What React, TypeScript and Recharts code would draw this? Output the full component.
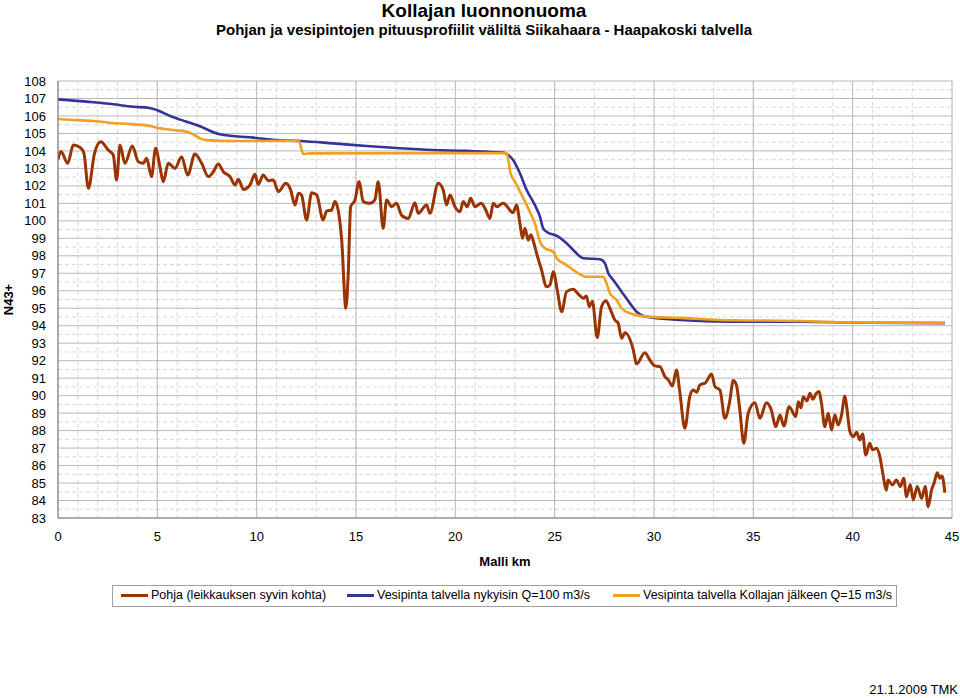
import { LineChart, Line, XAxis, YAxis, CartesianGrid } from "recharts";

const FONT = "'Liberation Sans', Arial, sans-serif";

// Pohja (leikkauksen syvin kohta)
const bedKm = [
  0, 0.15, 0.49, 0.77, 1.11, 1.3, 1.53, 1.83, 2.15, 2.53, 2.78, 2.95, 3.12, 3.37, 3.74, 4.04, 4.29, 4.46, 4.71, 4.91,
  5.13, 5.3, 5.55, 5.89, 6.22, 6.53, 6.89, 7.23, 7.57, 7.82, 8.07, 8.32, 8.66, 8.91, 9.08, 9.33, 9.66, 9.91, 10.08, 10.33,
  10.58, 10.84, 11.09, 11.47, 11.7, 11.93, 12.1, 12.26, 12.51, 12.77, 13.02, 13.35, 13.52, 13.77, 13.94, 14.1, 14.28, 14.49, 14.61, 14.73,
  14.95, 15.15, 15.37, 15.7, 15.95, 16.12, 16.37, 16.54, 16.79, 17.04, 17.29, 17.63, 17.97, 18.13, 18.55, 18.72, 19.14, 19.39, 19.56, 19.73,
  19.98, 20.23, 20.4, 20.6, 20.77, 20.99, 21.3, 21.5, 21.74, 21.91, 22.1, 22.24, 22.41, 22.91, 23.08, 23.25, 23.38, 23.5, 23.67, 23.8,
  23.92, 24.09, 24.34, 24.59, 24.76, 24.93, 25.13, 25.35, 25.6, 25.93, 26.2, 26.44, 26.6, 26.74, 26.9, 27.14, 27.36, 27.58, 27.78, 28.03,
  28.2, 28.37, 28.54, 28.96, 29.12, 29.54, 29.79, 30.05, 30.3, 30.55, 30.72, 30.93, 31.13, 31.3, 31.55, 31.8, 31.97, 32.15, 32.31, 32.6,
  32.9, 33.07, 33.32, 33.57, 33.8, 33.99, 34.15, 34.32, 34.52, 34.74, 35.08, 35.33, 35.66, 35.9, 36.13, 36.34, 36.54, 36.8, 37.14, 37.26,
  37.4, 37.51, 37.7, 37.85, 38.0, 38.15, 38.31, 38.43, 38.6, 38.77, 38.94, 39.1, 39.27, 39.44, 39.61, 39.72, 39.86, 40.03, 40.2, 40.36,
  40.5, 40.66, 40.86, 41.0, 41.2, 41.37, 41.53, 41.7, 41.78, 42.0, 42.2, 42.4, 42.57, 42.71, 42.9, 43.05, 43.25, 43.47, 43.65, 43.8,
  43.97, 44.1, 44.26, 44.39, 44.5, 44.64,
];
const bedLevel = [
  103.52, 103.96, 103.29, 104.34, 104.2, 103.9, 101.86, 103.82, 104.53, 104.05, 103.77, 102.34, 104.34, 103.29, 104.28, 103.38, 103.29, 103.58, 102.53, 104.15,
  103.1, 102.24, 103.29, 103.0, 103.67, 102.62, 103.82, 103.29, 102.53, 102.81, 103.25, 102.81, 102.53, 102.05, 102.38, 101.8, 102.05, 102.66, 102.09, 102.62,
  102.3, 102.34, 101.67, 102.15, 101.8, 100.9, 101.58, 101.48, 100.05, 101.61, 101.48, 100.05, 100.56, 100.62, 101.1, 100.62, 98.9, 95.0, 97.0, 100.81,
  101.19, 102.24, 101.1, 101.0, 101.2, 102.24, 99.57, 101.19, 100.81, 101.0, 100.33, 100.14, 101.04, 100.43, 100.91, 100.43, 102.15, 101.76, 100.91, 101.48,
  100.81, 100.52, 101.1, 100.8, 101.29, 100.81, 101.0, 100.7, 100.14, 101.0, 100.8, 100.91, 101.0, 100.47, 100.91, 99.86, 99.0, 99.57, 98.9, 99.2,
  98.86, 98.14, 97.19, 96.23, 96.33, 97.09, 96.04, 94.8, 95.95, 96.08, 95.8, 95.57, 95.7, 95.09, 95.4, 93.32, 95.09, 95.43, 95.0, 94.33,
  94.14, 93.28, 93.6, 92.61, 91.81, 92.46, 92.04, 91.7, 91.66, 91.09, 90.9, 90.55, 91.47, 90.2, 88.13, 89.94, 90.32, 90.2, 90.61, 90.75,
  91.24, 90.51, 90.32, 88.7, 89.6, 90.86, 90.6, 89.18, 87.27, 88.99, 89.6, 88.7, 89.6, 89.2, 88.22, 88.89, 88.26, 89.37, 88.8, 89.65,
  89.3, 89.94, 89.7, 90.13, 89.8, 90.1, 90.23, 89.56, 88.22, 88.99, 88.03, 88.9, 88.32, 88.89, 89.98, 89.18, 87.94, 87.65, 87.9, 87.46,
  87.8, 86.6, 87.27, 86.9, 86.99, 86.51, 85.46, 84.6, 85.17, 84.9, 85.17, 84.8, 85.27, 84.22, 84.9, 84.03, 84.8, 84.12, 84.8, 83.65,
  84.6, 85.0, 85.59, 85.27, 85.4, 84.45,
];

// Vesipinta talvella nykyisin Q=100 m3/s
const nowKm = [
  0, 1.44, 2.11, 2.78, 3.79, 4.6, 5.0, 5.64, 6.48, 6.98, 8.15, 8.82, 9.83, 11.01, 12.18, 13.86, 15.54, 17.21, 18.89, 20.57,
  22.41, 22.66, 22.91, 23.25, 23.59, 24.0, 24.26, 24.42, 24.59, 25.18, 25.6, 26.02, 26.44, 27.28, 27.53, 27.7, 27.95, 28.37, 28.79, 29.12,
  29.46, 29.79, 31.3, 33.82, 37.34, 40.5, 44.64,
];
const nowLevel = [
  106.95, 106.82, 106.76, 106.67, 106.53, 106.46, 106.33, 106.0, 105.67, 105.48, 104.95, 104.85, 104.76, 104.62, 104.57, 104.43, 104.28, 104.15, 104.05, 104.0,
  103.9, 103.77, 103.48, 102.72, 101.76, 100.91, 100.24, 99.57, 99.38, 99.1, 98.72, 98.23, 97.86, 97.8, 97.57, 97.0, 96.62, 95.95, 95.28, 94.8,
  94.56, 94.48, 94.33, 94.23, 94.23, 94.17, 94.15,
];

// Vesipinta talvella Kollajan jälkeen Q=15 m3/s
const afterKm = [
  0, 0.77, 1.78, 2.95, 3.79, 4.63, 5.13, 5.8, 6.48, 6.81, 7.15, 7.48, 8.82, 10.5, 12.01, 12.1, 12.35, 12.68, 22.58, 22.78,
  23.0, 23.34, 23.75, 24.0, 24.26, 24.51, 24.93, 25.1, 25.6, 26.19, 26.6, 27.44, 27.61, 27.78, 28.12, 28.37, 28.79, 29.63, 31.3, 33.32,
  37.34, 40.0, 44.64,
];
const afterLevel = [
  105.83, 105.77, 105.71, 105.58, 105.52, 105.43, 105.29, 105.2, 105.1, 104.95, 104.72, 104.62, 104.57, 104.57, 104.59, 104.62, 103.82, 103.86, 103.88, 102.72,
  102.24, 101.48, 100.52, 99.86, 98.81, 98.43, 98.23, 97.86, 97.47, 97.0, 96.8, 96.8, 96.43, 95.86, 95.47, 95.0, 94.71, 94.52, 94.45, 94.33,
  94.27, 94.18, 94.16,
];

const xTicks = [0, 5, 10, 15, 20, 25, 30, 35, 40, 45];
const yTicks = Array.from({ length: 26 }, (_, i) => 83 + i);
const minorY = Array.from({ length: 25 }, (_, i) => 83.5 + i);
const minorX = Array.from({ length: 46 }, (_, i) => i);

const toRows = (km: number[], v: number[]) => km.map((k, i) => ({ km: k, v: v[i] }));

const series = [
  { name: "Pohja (leikkauksen syvin kohta)", color: "#993300", width: 3, data: toRows(bedKm, bedLevel) },
  { name: "Vesipinta talvella nykyisin Q=100 m3/s", color: "#333399", width: 2.6, data: toRows(nowKm, nowLevel) },
  { name: "Vesipinta talvella Kollajan jälkeen Q=15 m3/s", color: "#F2A020", width: 2.6, data: toRows(afterKm, afterLevel) },
];

export default function App() {
  return (
    <div style={{ position: "absolute", left: 0, top: 0, width: 960, height: 698, background: "#fff", fontFamily: FONT }}>
      <div style={{ position: "absolute", top: 1, left: 0, width: 968, textAlign: "center", fontWeight: "bold", fontSize: 19, lineHeight: "19px" }}>
        Kollajan luonnonuoma
      </div>
      <div style={{ position: "absolute", top: 21, left: 0, width: 968, textAlign: "center", fontWeight: "bold", fontSize: 15 }}>
        Pohjan ja vesipintojen pituusprofiilit väliltä Siikahaara - Haapakoski talvella
      </div>

      <LineChart width={960} height={698} data={series[0].data} margin={{ top: 81, right: 8, bottom: 150, left: 0 }}>
        <CartesianGrid stroke="#d8d8d8" strokeDasharray="4 3" horizontalValues={minorY} verticalValues={minorX} />
        <CartesianGrid stroke="#b8b8b8" horizontalValues={yTicks} verticalValues={xTicks} />
        <XAxis
          type="number" dataKey="km" domain={[0, 45]} ticks={xTicks} allowDataOverflow height={30}
          stroke="#808080" tickLine={false} tickMargin={8}
          tick={{ fontSize: 13, fill: "#000", fontFamily: FONT }}
        />
        <YAxis
          type="number" domain={[83, 108]} ticks={yTicks} interval={0} allowDataOverflow width={58}
          stroke="#808080" tickLine={false} tickMargin={6}
          tick={{ fontSize: 13, fill: "#000", fontFamily: FONT }}
        />
        {series.map((s) => (
          <Line
            key={s.name} data={s.data} dataKey="v" name={s.name} type="monotone"
            stroke={s.color} strokeWidth={s.width} dot={false} isAnimationActive={false}
          />
        ))}
      </LineChart>

      <div style={{ position: "absolute", left: -12, top: 292, width: 40, textAlign: "center", fontWeight: "bold", fontSize: 13, transform: "rotate(-90deg)" }}>
        N43+
      </div>
      <div style={{ position: "absolute", left: 58, top: 554, width: 894, textAlign: "center", fontWeight: "bold", fontSize: 13 }}>
        Malli km
      </div>

      <div style={{ position: "absolute", left: 112, top: 585, width: 783, height: 20, border: "1px solid #a0a0a0", fontSize: 12.5 }}>
        {series.map((s, i) => (
          <div key={s.name} style={{ position: "absolute", left: [8, 234, 500][i], top: 2, display: "flex", alignItems: "center", whiteSpace: "nowrap" }}>
            <span style={{ display: "inline-block", width: 27, height: 3, background: s.color, marginRight: 3 }} />
            {s.name}
          </div>
        ))}
      </div>

      <div style={{ position: "absolute", right: 2, top: 682, fontSize: 13 }}>21.1.2009 TMK</div>
    </div>
  );
}
